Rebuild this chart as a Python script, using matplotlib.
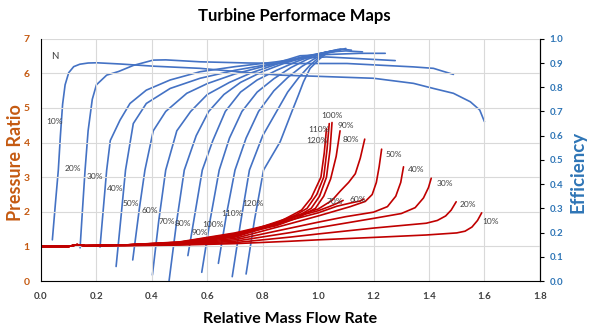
import numpy as np
import matplotlib
matplotlib.use("Agg")
import matplotlib.pyplot as plt

plt.rcParams['font.family'] = ['Lato', 'DejaVu Sans']

# -------------------------
# Data
# -------------------------
speeds = ["10%", "20%", "30%", "40%", "50%", "60%",
          "70%", "80%", "90%", "100%", "110%", "120%"]

# pressure ratio vs relative mass flow, one list per speed line
pr_flow_10 = [0, 0.1, 0.13, 0.16, 0.3, 0.5, 0.7, 0.9, 1.0, 1.2, 1.39, 1.5, 1.53, 1.555, 1.575, 1.59]
pr_val_10 = [1.0, 1.0, 1.05, 1.02, 1.02, 1.04, 1.08, 1.15, 1.19, 1.26, 1.33, 1.39, 1.44, 1.56, 1.75, 1.97]
pr_flow_20 = [0, 0.1, 0.13, 0.16, 0.3, 0.5, 0.7, 0.9, 1.0, 1.2, 1.39, 1.43, 1.46, 1.48, 1.498]
pr_val_20 = [1.0, 1.0, 1.05, 1.02, 1.03, 1.05, 1.11, 1.27, 1.36, 1.53, 1.67, 1.75, 1.88, 2.05, 2.29]
pr_flow_30 = [0, 0.1, 0.13, 0.16, 0.3, 0.5, 0.7, 0.9, 1.0, 1.2, 1.3, 1.35, 1.38, 1.398, 1.408]
pr_val_30 = [1.0, 1.0, 1.05, 1.02, 1.03, 1.06, 1.15, 1.4, 1.54, 1.81, 1.95, 2.12, 2.4, 2.7, 2.97]
pr_flow_40 = [0, 0.1, 0.13, 0.16, 0.3, 0.5, 0.7, 0.9, 1.0, 1.1, 1.2, 1.25, 1.28, 1.298, 1.308]
pr_val_40 = [1.0, 1.0, 1.05, 1.02, 1.03, 1.07, 1.19, 1.53, 1.7, 1.86, 1.99, 2.15, 2.45, 2.85, 3.3]
pr_flow_50 = [0, 0.1, 0.13, 0.16, 0.3, 0.5, 0.7, 0.9, 1.0, 1.116, 1.17, 1.195, 1.21, 1.22, 1.229]
pr_val_50 = [1.0, 1.0, 1.05, 1.02, 1.04, 1.08, 1.23, 1.66, 1.88, 2.15, 2.3, 2.5, 2.85, 3.3, 3.81]
pr_flow_60 = [0, 0.1, 0.13, 0.16, 0.3, 0.5, 0.7, 0.9, 1.0, 1.067, 1.12, 1.15, 1.165]
pr_val_60 = [1.0, 1.0, 1.05, 1.02, 1.04, 1.09, 1.27, 1.76, 1.97, 2.16, 2.26, 2.31, 2.37]
pr_flow_70 = [0, 0.1, 0.13, 0.16, 0.3, 0.5, 0.7, 0.9, 1.0, 1.04, 1.07, 1.09]
pr_val_70 = [1.0, 1.0, 1.05, 1.02, 1.04, 1.1, 1.29, 1.82, 2.03, 2.15, 2.25, 2.33]
pr_flow_80 = [0, 0.1, 0.13, 0.16, 0.3, 0.5, 0.7, 0.9, 1.0, 1.05, 1.08, 1.11, 1.134, 1.152, 1.168]
pr_val_80 = [1.0, 1.0, 1.05, 1.02, 1.04, 1.1, 1.31, 1.84, 2.08, 2.33, 2.6, 2.85, 3.1, 3.55, 4.1]
pr_flow_90 = [0, 0.1, 0.13, 0.16, 0.3, 0.5, 0.7, 0.85, 0.93, 0.99, 1.02, 1.045, 1.065, 1.079]
pr_val_90 = [1.0, 1.0, 1.05, 1.02, 1.04, 1.11, 1.33, 1.6, 1.84, 2.1, 2.45, 2.95, 3.6, 4.34]
pr_flow_100 = [0, 0.1, 0.13, 0.16, 0.3, 0.5, 0.7, 0.85, 0.93, 0.975, 1.005, 1.03, 1.043, 1.05]
pr_val_100 = [1.0, 1.0, 1.05, 1.02, 1.04, 1.12, 1.35, 1.63, 1.89, 2.1, 2.45, 3.0, 3.8, 4.58]
pr_flow_110 = [0, 0.1, 0.13, 0.16, 0.3, 0.5, 0.7, 0.85, 0.92, 0.96, 0.995, 1.02, 1.032, 1.04]
pr_val_110 = [1.0, 1.0, 1.05, 1.02, 1.04, 1.12, 1.37, 1.65, 1.91, 2.1, 2.5, 3.0, 3.8, 4.55]
pr_flow_120 = [0, 0.1, 0.13, 0.16, 0.3, 0.5, 0.7, 0.85, 0.91, 0.94, 0.975, 1.01, 1.022, 1.03]
pr_val_120 = [1.0, 1.0, 1.05, 1.02, 1.04, 1.13, 1.39, 1.67, 1.92, 2.05, 2.4, 3.0, 3.7, 4.4]

# efficiency vs relative mass flow
ef_flow_10 = [0.041, 0.052, 0.0625, 0.07, 0.078, 0.087, 0.1, 0.118, 0.14, 0.17, 0.201, 0.285, 0.405,
              0.574, 0.75, 0.863, 1.0, 1.2, 1.344, 1.416, 1.488, 1.549, 1.583, 1.6]
ef_val_10 = [0.17, 0.32, 0.458, 0.6, 0.73, 0.81, 0.86, 0.885, 0.895, 0.9, 0.901, 0.896, 0.887,
             0.878, 0.86, 0.85, 0.845, 0.837, 0.816, 0.795, 0.775, 0.74, 0.706, 0.658]
ef_flow_20 = [0.141, 0.15, 0.159, 0.17, 0.185, 0.2, 0.237, 0.28, 0.333, 0.405, 0.45, 0.574, 0.75,
              0.935, 1.104, 1.224, 1.344, 1.416, 1.45, 1.488]
ef_val_20 = [0.137, 0.3, 0.458, 0.62, 0.75, 0.81, 0.85, 0.865, 0.89, 0.912, 0.913, 0.905, 0.9,
             0.898, 0.898, 0.891, 0.884, 0.878, 0.866, 0.853]
ef_flow_30 = [0.213, 0.225, 0.237, 0.25, 0.285, 0.321, 0.38, 0.466, 0.574, 0.7, 0.85, 0.935,
              1.03, 1.15, 1.278]
ef_val_30 = [0.14, 0.3, 0.458, 0.58, 0.664, 0.733, 0.788, 0.83, 0.864, 0.885, 0.905, 0.92,
             0.925, 0.918, 0.91]
ef_flow_40 = [0.271, 0.29, 0.305, 0.333, 0.38, 0.466, 0.574, 0.7, 0.85, 0.935, 1.03, 1.15, 1.242]
ef_val_40 = [0.06, 0.28, 0.458, 0.65, 0.733, 0.795, 0.837, 0.87, 0.9, 0.93, 0.935, 0.94, 0.94]
ef_flow_50 = [0.331, 0.355, 0.375, 0.405, 0.45, 0.526, 0.6, 0.7, 0.8, 0.9, 0.97, 1.03, 1.1, 1.16]
ef_val_50 = [0.087, 0.3, 0.458, 0.62, 0.7, 0.775, 0.815, 0.855, 0.885, 0.91, 0.93, 0.945, 0.95, 0.946]
ef_flow_60 = [0.402, 0.425, 0.45, 0.49, 0.54, 0.6, 0.68, 0.76, 0.85, 0.94, 1.03, 1.08, 1.12]
ef_val_60 = [0.025, 0.25, 0.458, 0.62, 0.7, 0.77, 0.82, 0.86, 0.895, 0.925, 0.945, 0.958, 0.953]
ef_flow_70 = [0.462, 0.49, 0.517, 0.56, 0.605, 0.66, 0.72, 0.8, 0.88, 0.96, 1.03, 1.07, 1.1]
ef_val_70 = [0.0, 0.25, 0.458, 0.6, 0.7, 0.77, 0.82, 0.865, 0.9, 0.925, 0.945, 0.952, 0.96]
ef_flow_80 = [0.53, 0.582, 0.62, 0.665, 0.72, 0.78, 0.85, 0.92, 0.98, 1.03, 1.08]
ef_val_80 = [0.105, 0.458, 0.58, 0.7, 0.78, 0.83, 0.87, 0.905, 0.93, 0.945, 0.95]
ef_flow_90 = [0.58, 0.61, 0.643, 0.68, 0.725, 0.78, 0.84, 0.9, 0.96, 1.03, 1.075]
ef_val_90 = [0.036, 0.25, 0.458, 0.59, 0.7, 0.78, 0.835, 0.88, 0.915, 0.945, 0.952]
ef_flow_100 = [0.64, 0.67, 0.7, 0.74, 0.785, 0.84, 0.89, 0.94, 0.99, 1.03, 1.07]
ef_val_100 = [0.073, 0.28, 0.458, 0.59, 0.7, 0.785, 0.84, 0.885, 0.92, 0.945, 0.955]
ef_flow_110 = [0.69, 0.72, 0.752, 0.8, 0.85, 0.89, 0.93, 0.97, 1.0, 1.03, 1.065]
ef_val_110 = [0.018, 0.24, 0.458, 0.6, 0.7, 0.78, 0.84, 0.89, 0.92, 0.945, 0.95]
ef_flow_120 = [0.74, 0.77, 0.803, 0.863, 0.905, 0.929, 0.947, 0.971, 1.007, 1.031, 1.06]
ef_val_120 = [0.029, 0.25, 0.458, 0.575, 0.699, 0.768, 0.822, 0.878, 0.919, 0.94, 0.948]

# label positions (flow, pressure ratio) for the speed lines
pr_label_x = [1.623, 1.539, 1.456, 1.354, 1.274, 1.142, 1.061, 1.119, 1.1, 1.049, 1.004, 0.995]
pr_label_y = [1.71, 2.22, 2.82, 3.23, 3.66, 2.36, 2.29, 4.08, 4.48, 4.78, 4.39, 4.05]
ef_label_x = [0.048, 0.114, 0.195, 0.267, 0.325, 0.394, 0.454, 0.511, 0.571, 0.622, 0.688, 0.766]
ef_label_y = [4.6, 3.26, 3.01, 2.66, 2.24, 2.05, 1.73, 1.65, 1.40, 1.64, 1.94, 2.23]

x_ticks = [0.0, 0.2, 0.4, 0.6, 0.8, 1.0, 1.2, 1.4, 1.6, 1.8]
pr_ticks = [0, 1, 2, 3, 4, 5, 6, 7]
ef_ticks = [0.0, 0.1, 0.2, 0.3, 0.4, 0.5, 0.6, 0.7, 0.8, 0.9, 1.0]

pr_lines = [(pr_flow_10, pr_val_10), (pr_flow_20, pr_val_20), (pr_flow_30, pr_val_30),
            (pr_flow_40, pr_val_40), (pr_flow_50, pr_val_50), (pr_flow_60, pr_val_60),
            (pr_flow_70, pr_val_70), (pr_flow_80, pr_val_80), (pr_flow_90, pr_val_90),
            (pr_flow_100, pr_val_100), (pr_flow_110, pr_val_110), (pr_flow_120, pr_val_120)]
ef_lines = [(ef_flow_10, ef_val_10), (ef_flow_20, ef_val_20), (ef_flow_30, ef_val_30),
            (ef_flow_40, ef_val_40), (ef_flow_50, ef_val_50), (ef_flow_60, ef_val_60),
            (ef_flow_70, ef_val_70), (ef_flow_80, ef_val_80), (ef_flow_90, ef_val_90),
            (ef_flow_100, ef_val_100), (ef_flow_110, ef_val_110), (ef_flow_120, ef_val_120)]

RED = "#C00000"
BLUE = "#4472C4"
ORANGE = "#C55A11"
EF_BLUE = "#2E75B6"
GRID = "#D9D9D9"
TXT = "#404040"

# -------------------------
# Plot
# -------------------------
fig = plt.figure(figsize=(5.89, 3.26), dpi=100)
ax = fig.add_axes([0.0696, 0.138, 0.847, 0.743])
ax2 = ax.twinx()

for fx, fy in ef_lines:
    ax2.plot(fx, fy, color=BLUE, lw=1.2, solid_capstyle="round", solid_joinstyle="round")
for fx, fy in pr_lines:
    ax.plot(fx, fy, color=RED, lw=1.2, solid_capstyle="round", solid_joinstyle="round")

# red on top of blue
ax.set_zorder(ax2.get_zorder() + 1)
ax.patch.set_visible(False)

for lab, lx, ly in zip(speeds, pr_label_x, pr_label_y):
    ax.text(lx, ly, lab, fontsize=6, color=TXT, ha="center", va="center")
for lab, lx, ly in zip(speeds, ef_label_x, ef_label_y):
    ax.text(lx, ly, lab, fontsize=6, color=TXT, ha="center", va="center")
ax.text(0.051, 6.5, "N", fontsize=7, color=TXT, ha="center", va="center")

ax.set_xlim(0, 1.8)
ax.set_ylim(0, 7)
ax2.set_ylim(0, 1)

ax.set_xticks(x_ticks)
ax.set_xticklabels([f"{t:.1f}" for t in x_ticks], fontsize=7, fontweight="bold", color=TXT)
ax.set_yticks(pr_ticks)
ax.set_yticklabels([str(t) for t in pr_ticks], fontsize=7.5, fontweight="bold", color=ORANGE)
ax2.set_yticks(ef_ticks)
ax2.set_yticklabels([f"{t:.1f}" for t in ef_ticks], fontsize=7, fontweight="bold", color=EF_BLUE)

ax.tick_params(axis="both", length=0, pad=8)
ax2.tick_params(axis="y", length=3, width=0.8, pad=4, color="black")

ax2.grid(False)
ax.grid(True, color=GRID, lw=0.8)
ax.set_axisbelow(True)

for a in (ax, ax2):
    a.spines["top"].set_visible(False)
    a.spines["left"].set_color("black")
    a.spines["bottom"].set_color("black")
    a.spines["right"].set_color("black")
ax2.spines["left"].set_visible(False)
ax2.spines["bottom"].set_visible(False)

ax.set_xlabel("Relative Mass Flow Rate", fontsize=11.5, fontweight="bold", color="black")
ax.xaxis.set_label_coords(0.5, -0.128)
ax.set_ylabel("Pressure Ratio", fontsize=13, fontweight="bold", color=ORANGE,
              va="center", ha="center")
ax.yaxis.set_label_coords(-0.052, 0.49)
ax2.set_ylabel("Efficiency", fontsize=13.5, fontweight="bold", color=EF_BLUE,
               rotation=90, va="center", ha="center")
ax2.yaxis.set_label_coords(1.076, 0.45)
fig.suptitle("Turbine Performace Maps", fontsize=12, fontweight="bold", y=0.975)

fig.savefig("out.png", dpi=100)
